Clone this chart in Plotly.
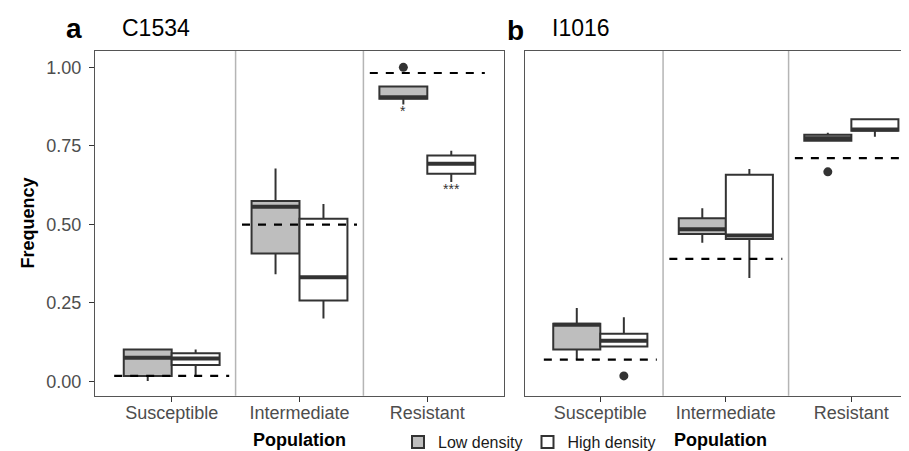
import plotly.graph_objects as go

categories = ["Susceptible", "Intermediate", "Resistant"]
groups = ["Low density", "High density"]

# Panel a: C1534
a_low_q1 = [0.017, 0.407, 0.900]
a_low_med = [0.075, 0.556, 0.905]
a_low_q3 = [0.101, 0.574, 0.939]
a_low_lo = [0.001, 0.341, 0.882]
a_low_hi = [0.101, 0.678, 0.939]
a_high_q1 = [0.052, 0.257, 0.661]
a_high_med = [0.072, 0.331, 0.693]
a_high_q3 = [0.089, 0.518, 0.719]
a_high_lo = [0.017, 0.200, 0.635]
a_high_hi = [0.101, 0.565, 0.734]
a_expected = [0.017, 0.499, 0.982]
a_out_low = {"Resistant": 1.00}
a_out_high = {}
a_stars_low = {"Resistant": "*"}
a_stars_high = {"Resistant": "***"}

# Panel b: I1016
b_low_q1 = [0.101, 0.469, 0.766]
b_low_med = [0.180, 0.484, 0.774]
b_low_q3 = [0.183, 0.519, 0.785]
b_low_lo = [0.069, 0.441, 0.766]
b_low_hi = [0.233, 0.551, 0.792]
b_high_q1 = [0.111, 0.453, 0.798]
b_high_med = [0.129, 0.464, 0.802]
b_high_q3 = [0.151, 0.658, 0.835]
b_high_lo = [0.111, 0.329, 0.779]
b_high_hi = [0.204, 0.676, 0.835]
b_expected = [0.069, 0.390, 0.711]
b_out_low = {"Resistant": 0.667}
b_out_high = {"Susceptible": 0.017}

y_ticks = [0.0, 0.25, 0.5, 0.75, 1.0]
y_ticktext = ["0.00", "0.25", "0.50", "0.75", "1.00"]

FONT = "Liberation Sans, Arial, sans-serif"
DARK = "#333333"
FILLS = {"Low density": "#bebebe", "High density": "#ffffff"}
BW = 0.375
pos = [1, 2, 3]

fig = go.Figure()


def add_panel(xa, ya, low, high, expected, out_low, out_high, showlegend):
    for g, (q1, med, q3, lo, hi), off in [("Low density", low, -BW / 2), ("High density", high, BW / 2)]:
        xs = [p + off for p in pos]
        fig.add_trace(go.Box(
            x=xs, q1=q1, median=med, q3=q3, lowerfence=lo, upperfence=hi,
            width=BW, whiskerwidth=0, fillcolor=FILLS[g],
            line=dict(color=DARK, width=2), boxpoints=False,
            name=g, legendgroup=g, showlegend=showlegend,
            xaxis=xa, yaxis=ya, hoverinfo="skip"))
        mx, my = [], []
        for x, m in zip(xs, med):
            mx += [x - BW / 2, x + BW / 2, None]
            my += [m, m, None]
        fig.add_trace(go.Scatter(x=mx, y=my, mode="lines", line=dict(color=DARK, width=4),
                                 showlegend=False, xaxis=xa, yaxis=ya, hoverinfo="skip"))
    # expected dashed lines
    ex, ey = [], []
    for p, e in zip(pos, expected):
        ex += [p - 0.45, p + 0.45, None]
        ey += [e, e, None]
    fig.add_trace(go.Scatter(x=ex, y=ey, mode="lines",
                             line=dict(color="black", width=2.2, dash="8px,8px"),
                             showlegend=False, xaxis=xa, yaxis=ya, hoverinfo="skip"))
    # outliers
    ox, oy = [], []
    for d, off in [(out_low, -BW / 2), (out_high, BW / 2)]:
        for c, v in d.items():
            ox.append(pos[categories.index(c)] + off)
            oy.append(v)
    fig.add_trace(go.Scatter(x=ox, y=oy, mode="markers", marker=dict(color=DARK, size=9),
                             showlegend=False, xaxis=xa, yaxis=ya, hoverinfo="skip"))


add_panel("x", "y",
          (a_low_q1, a_low_med, a_low_q3, a_low_lo, a_low_hi),
          (a_high_q1, a_high_med, a_high_q3, a_high_lo, a_high_hi),
          a_expected, a_out_low, a_out_high, True)
add_panel("x2", "y2",
          (b_low_q1, b_low_med, b_low_q3, b_low_lo, b_low_hi),
          (b_high_q1, b_high_med, b_high_q3, b_high_lo, b_high_hi),
          b_expected, b_out_low, b_out_high, False)

# significance stars (below the lower whisker)
for d, off in [(a_stars_low, -BW / 2), (a_stars_high, BW / 2)]:
    for c, s in d.items():
        i = categories.index(c)
        lo = (a_low_lo if off < 0 else a_high_lo)[i]
        fig.add_annotation(x=pos[i] + off, y=lo, xref="x", yref="y", text=s,
                           showarrow=False, yanchor="top", yshift=3,
                           font=dict(family=FONT, size=14, color=DARK))

# separators
for xa, ya in [("x", "y"), ("x2", "y2")]:
    for xv in [1.5, 2.5]:
        fig.add_shape(type="line", xref=xa, yref=ya + " domain", x0=xv, x1=xv, y0=0, y1=1,
                      line=dict(color="#b5b5b5", width=1.5), layer="below")

ydom = [(451 - 392) / 451, (451 - 43.5) / 451]
tickfont = dict(family=FONT, size=18, color="#4d4d4d")
common_x = dict(tickvals=pos, ticktext=categories, ticks="outside", ticklen=5, tickcolor=DARK,
                showgrid=False, zeroline=False, showline=True, linecolor="#555555", linewidth=1,
                tickfont=tickfont, ticklabelstandoff=-4)

fig.update_layout(
    width=909, height=451, margin=dict(l=0, r=0, t=0, b=0),
    paper_bgcolor="white", plot_bgcolor="white", boxmode="overlay",
    xaxis=dict(domain=[87 / 909, 496 / 909], range=[0.4, 3.6], mirror=True, anchor="y", **common_x),
    yaxis=dict(domain=ydom, range=[-0.046, 1.052], tickvals=y_ticks, ticktext=y_ticktext,
               ticks="outside", ticklen=5, tickcolor=DARK, showgrid=False, zeroline=False,
               showline=True, linecolor="#555555", linewidth=1, mirror=True, tickfont=tickfont,
               ticklabelstandoff=4, anchor="x"),
    xaxis2=dict(domain=[517 / 909, 1.0], range=[0.4, 3.523], mirror=True, anchor="y2", **common_x),
    yaxis2=dict(domain=ydom, range=[-0.046, 1.052], showticklabels=False, ticks="",
                showgrid=False, zeroline=False, showline=True, linecolor="#555555",
                linewidth=1, mirror=False, anchor="x2"),
    legend=dict(orientation="h", x=390 / 909, y=(451 - 439) / 451, xanchor="left", yanchor="middle",
                font=dict(family=FONT, size=16, color="#1a1a1a"), bgcolor="rgba(0,0,0,0)",
                itemwidth=30, tracegroupgap=0),
    font=dict(family=FONT),
)

annos = [
    dict(x=66 / 909, y=(451 - 21) / 451, text="<b>a</b>", size=28, color="black"),
    dict(x=148 / 909, y=(451 - 20) / 451, text="C1534", size=23, color="black"),
    dict(x=507 / 909, y=(451 - 23) / 451, text="<b>b</b>", size=28, color="black"),
    dict(x=573 / 909, y=(451 - 20) / 451, text="I1016", size=23, color="black"),
    dict(x=291 / 909, y=(451 - 437) / 451, text="<b>Population</b>", size=18, color="black"),
    dict(x=712 / 909, y=(451 - 437) / 451, text="<b>Population</b>", size=18, color="black"),
]
for a in annos:
    fig.add_annotation(x=a["x"], y=a["y"], xref="paper", yref="paper", text=a["text"],
                       showarrow=False, xanchor="center", yanchor="middle",
                       font=dict(family=FONT, size=a["size"], color=a["color"]))
fig.add_annotation(x=20 / 909, y=(451 - 218) / 451, xref="paper", yref="paper",
                   text="<b>Frequency</b>", textangle=-90, showarrow=False,
                   xanchor="center", yanchor="middle",
                   font=dict(family=FONT, size=18, color="black"))

fig.write_html("out.html")
